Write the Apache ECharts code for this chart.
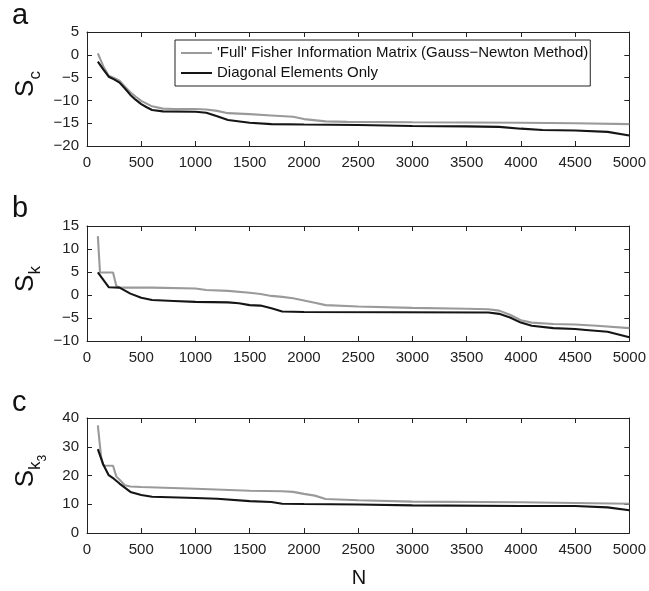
<!DOCTYPE html>
<html><head><meta charset="utf-8">
<script src="https://cdn.jsdelivr.net/npm/echarts@6/dist/echarts.min.js"></script>
<style>html,body{margin:0;padding:0;background:#fff}#chart{width:649px;height:591px}</style>
</head><body><div id="chart"></div>
<script>
const FONT = "'Liberation Sans', Arial, Helvetica, sans-serif";
const seriesNames = ["'Full' Fisher Information Matrix (Gauss\u2212Newton Method)", "Diagonal Elements Only"];
const xMin = 0, xMax = 5000, xStep = 500;
const yRanges = [[-20, 5, 5], [-10, 15, 5], [0, 40, 10]];
const panelLetters = ['a', 'b', 'c'];

// Panel a: S_c
const aFull = [[100,0.3],[150,-2.5],[200,-4.6],[250,-5.1],[300,-5.7],[350,-7.0],[400,-8.2],[450,-9.2],[500,-10.1],[550,-10.7],[600,-11.3],[700,-11.8],[800,-11.9],[1000,-11.9],[1100,-12.0],[1200,-12.3],[1300,-12.8],[1500,-13.0],[1700,-13.3],[1900,-13.6],[2000,-14.1],[2200,-14.6],[2400,-14.7],[3000,-14.8],[4000,-14.9],[4500,-15.0],[5000,-15.2]];
const aDiag = [[100,-1.5],[150,-3.2],[200,-4.8],[250,-5.4],[300,-6.1],[350,-7.4],[400,-8.8],[450,-9.9],[500,-10.8],[550,-11.5],[600,-12.1],[700,-12.4],[1000,-12.5],[1100,-12.7],[1200,-13.5],[1300,-14.3],[1500,-14.9],[1700,-15.2],[2000,-15.3],[2500,-15.4],[3000,-15.6],[3500,-15.7],[3800,-15.8],[4000,-16.2],[4200,-16.5],[4500,-16.6],[4800,-16.9],[5000,-17.7]];
// Panel b: S_k
const bFull = [[100,12.8],[120,4.9],[240,4.9],[270,2.0],[300,1.6],[600,1.6],[1000,1.4],[1100,1.1],[1300,0.9],[1500,0.5],[1600,0.2],[1700,-0.2],[1800,-0.4],[1900,-0.7],[2000,-1.2],[2100,-1.7],[2200,-2.2],[2500,-2.5],[3000,-2.8],[3500,-3.0],[3700,-3.1],[3800,-3.4],[3900,-4.3],[4000,-5.5],[4100,-6.0],[4300,-6.3],[4500,-6.4],[4700,-6.7],[5000,-7.2]];
const bDiag = [[100,4.9],[200,1.7],[300,1.6],[400,0.3],[500,-0.6],[600,-1.1],[800,-1.3],[1000,-1.5],[1300,-1.6],[1400,-1.8],[1500,-2.2],[1600,-2.3],[1700,-2.9],[1800,-3.6],[2000,-3.7],[3700,-3.8],[3800,-4.1],[3900,-4.9],[4000,-6.0],[4100,-6.7],[4300,-7.2],[4500,-7.4],[4600,-7.6],[4800,-8.0],[5000,-9.2]];
// Panel c: S_k3
const cFull = [[100,37.4],[130,26.5],[150,23.5],[240,23.4],[270,19.7],[350,16.6],[400,16.2],[500,16.0],[1000,15.4],[1500,14.7],[1800,14.5],[1900,14.3],[2000,13.6],[2100,13.0],[2200,11.8],[2500,11.4],[3000,10.9],[4000,10.7],[5000,10.2]];
const cDiag = [[100,29.2],[150,23.8],[200,20.1],[250,18.8],[300,17.2],[400,14.3],[500,13.2],[600,12.6],[1000,12.2],[1200,11.9],[1500,11.1],[1700,10.8],[1800,10.2],[2000,10.1],[2500,9.9],[3000,9.6],[4000,9.4],[4500,9.4],[4800,8.9],[5000,7.9]];

const panelData = [[aFull, aDiag], [bFull, bDiag], [cFull, cDiag]];
// y-axis titles: [main, sub, subsub]
const yTitles = [['S', 'c', ''], ['S', 'k', ''], ['S', 'k', '3']];

const GRAY = '#9a9a9a', BLACK = '#151515', AX = '#222';
const grids = [
  {left: 87, top: 32, width: 544, height: 114},
  {left: 87, top: 226, width: 544, height: 115},
  {left: 87, top: 418, width: 544, height: 115}
];
const minus = v => String(v).replace('-', '\u2212');

const xAxes = [], yAxes = [], series = [];
grids.forEach((g, i) => {
  const common = {gridIndex: i, type: 'value', min: xMin, max: xMax, interval: xStep,
    axisLine: {show: true, onZero: false, lineStyle: {color: AX, width: 1}},
    axisTick: {show: true, inside: true, length: 5, lineStyle: {color: AX, width: 1}},
    splitLine: {show: false}};
  xAxes.push(Object.assign({}, common, {position: 'bottom',
    axisLabel: {fontSize: 15, color: AX, fontFamily: FONT, margin: 9, formatter: minus}}));
  xAxes.push(Object.assign({}, common, {position: 'top', axisLabel: {show: false}}));
  const [lo, hi, st] = yRanges[i];
  const yc = {gridIndex: i, type: 'value', min: lo, max: hi, interval: st,
    axisLine: {show: true, onZero: false, lineStyle: {color: AX, width: 1}},
    axisTick: {show: true, inside: true, length: 5, lineStyle: {color: AX, width: 1}},
    splitLine: {show: false}};
  yAxes.push(Object.assign({}, yc, {position: 'left',
    axisLabel: {fontSize: 15, color: AX, fontFamily: FONT, margin: 8, formatter: minus}}));
  yAxes.push(Object.assign({}, yc, {position: 'right', axisLabel: {show: false}}));
  [GRAY, BLACK].forEach((col, k) => {
    series.push({type: 'line', name: seriesNames[k], xAxisIndex: 2 * i, yAxisIndex: 2 * i,
      data: panelData[i][k], symbol: 'none', showSymbol: false, animation: false,
      lineStyle: {color: col, width: 2.1}, itemStyle: {color: col}, z: 2 + k});
  });
});

// y titles with subscripts, measured with canvas
const ctx = document.createElement('canvas').getContext('2d');
function tw(text, size) { ctx.font = size + 'px ' + FONT; return ctx.measureText(text).width; }
const titleCenters = [84, 279, 471];
const graphic = [];
const S1 = 26, S2 = 17, S3 = 12;
yTitles.forEach((t, i) => {
  const w1 = tw(t[0], S1), w2 = tw(t[1], S2), w3 = t[2] ? tw(t[2], S3) : 0;
  const W = w1 + w2 + w3;
  const x0 = -W / 2;
  const children = [
    {type: 'text', x: x0, y: -0.35 * S1, style: {text: t[0], font: S1 + 'px ' + FONT, fill: '#111', verticalAlign: 'middle', align: 'left'}},
    {type: 'text', x: x0 + w1, y: 6 - 0.35 * S2, style: {text: t[1], font: S2 + 'px ' + FONT, fill: '#111', verticalAlign: 'middle', align: 'left'}}
  ];
  if (t[2]) children.push({type: 'text', x: x0 + w1 + w2, y: 12 - 0.35 * S3, style: {text: t[2], font: S3 + 'px ' + FONT, fill: '#111', verticalAlign: 'middle', align: 'left'}});
  graphic.push({type: 'group', x: 35, y: titleCenters[i], rotation: Math.PI / 2, children});
});
const letterY = [16, 209, 403];
panelLetters.forEach((l, i) => graphic.push({type: 'text', x: 12, y: letterY[i],
  style: {text: l, font: '29px ' + FONT, fill: '#111', verticalAlign: 'middle', align: 'left'}}));
graphic.push({type: 'text', x: 359, y: 578, style: {text: 'N', font: '20px ' + FONT, fill: '#111', verticalAlign: 'middle', align: 'center'}});

const chart = echarts.init(document.getElementById('chart'), null, {renderer: 'canvas'});
chart.setOption({
  animation: false,
  backgroundColor: '#fff',
  grid: grids,
  xAxis: xAxes,
  yAxis: yAxes,
  legend: {data: seriesNames, left: 175, top: 40, orient: 'vertical', icon: 'rect', itemWidth: 31, itemHeight: 2,
    itemGap: 4, padding: [5, 2, 5, 6], borderColor: AX, borderWidth: 1, backgroundColor: '#fff',
    selectedMode: false, textStyle: {fontSize: 15, lineHeight: 16, fontFamily: FONT, color: '#111'}},
  series,
  graphic
});
</script></body></html>
